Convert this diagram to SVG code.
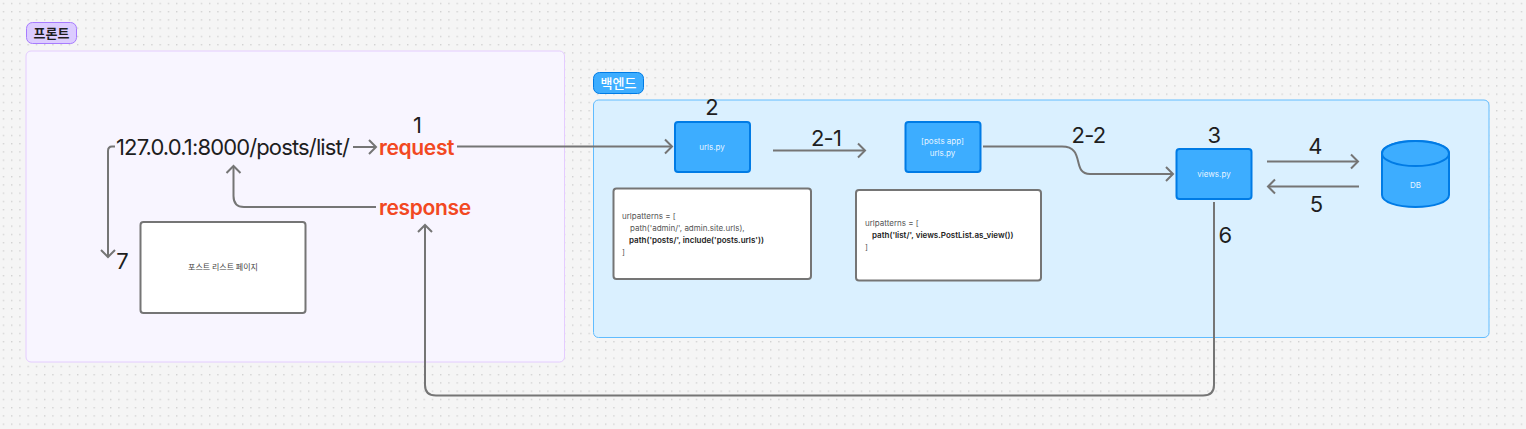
<svg xmlns="http://www.w3.org/2000/svg" width="1526" height="429" viewBox="0 0 1526 429">
<style>
text{font-family:Inter,"Noto Sans","Noto Sans CJK KR",sans-serif;fill:#1e1e1e}
.ko{font-family:"Noto Sans CJK KR","Noto Sans",sans-serif}
.n{font-size:22px;text-anchor:middle;letter-spacing:-.8px}
.big{font-size:22px;letter-spacing:-.86px}
.red{font-size:21px;font-weight:600;fill:#f24822;letter-spacing:-.35px}
.small{font-size:8px;fill:#fff;text-anchor:middle;fill-opacity:.9}
.code{font-size:8px;fill:#555}
.codeb{font-size:8px;font-weight:600;fill:#222}
.blue{fill:#3dadff;stroke:#007be5;stroke-width:2}
.white{fill:#fff;stroke:#757575;stroke-width:2}
.c{fill:none;stroke:#757575;stroke-width:2}
</style>
<defs>
<pattern id="dots" width="8.25" height="8.25" patternUnits="userSpaceOnUse" x="0" y="0"><rect x="3" y="3" width="1" height="1" fill="#b0b0b0"/></pattern>
<marker id="a" viewBox="-10 -10 12 20" refX="0" refY="0" markerWidth="12" markerHeight="20" markerUnits="userSpaceOnUse" orient="auto"><path d="M-7-7L0 0L-7 7" fill="none" stroke="#757575" stroke-width="2"/></marker>
</defs>
<rect width="1526" height="429" fill="#f5f5f5"/>
<rect width="1526" height="429" fill="url(#dots)"/>
<g id="front-section"><rect x="26" y="51" width="538.500" height="311" rx="5" fill="#f8f5ff" stroke="#e4ccff"/></g>
<g id="front-label"><rect x="26.500" y="22.500" width="50" height="21" rx="6" fill="#dcccff" stroke="#a77bff"/><text class="ko" x="51.500" y="37.500" font-size="13" font-weight="700" text-anchor="middle">프론트</text></g>
<g id="back-section"><rect x="593.500" y="100" width="895.500" height="237.500" rx="5" fill="#daf0ff" stroke="#60bcff"/></g>
<g id="back-label"><rect x="593.500" y="72.500" width="50" height="21" rx="6" fill="#3dadff" stroke="#007be5"/><text class="ko" x="618.500" y="87.500" font-size="13" font-weight="500" text-anchor="middle" style="fill:#fff">백엔드</text></g>
<g id="connectors">
<path class="c" marker-end="url(#a)" d="M115 146.500H112Q108 146.500 108 151V257"/>
<path class="c" marker-end="url(#a)" d="M353 147H376"/>
<path class="c" marker-end="url(#a)" d="M376 207H244Q233.500 207 233.500 196V166"/>
<path class="c" marker-end="url(#a)" d="M457 146.500H672"/>
<path class="c" marker-end="url(#a)" d="M773 150.500H865"/>
<path class="c" marker-end="url(#a)" d="M983 146.500H1062C1086 146.500 1071 174 1090 174H1173"/>
<path class="c" marker-end="url(#a)" d="M1267 161.500H1358"/>
<path class="c" marker-end="url(#a)" d="M1359 186.500H1268"/>
<path class="c" marker-end="url(#a)" d="M1214 202V385Q1214 395.500 1203 395.500H436Q425 395.500 425 385V225"/>
</g>
<g id="urls"><rect class="blue" x="675" y="122" width="75" height="50" rx="3"/><text class="small" x="712" y="150">urls.py</text></g>
<g id="posts-urls"><rect class="blue" x="905.500" y="122" width="75" height="50" rx="3"/><text class="small" x="942.500" y="144">[posts app]</text><text class="small" x="942.500" y="156">urls.py</text></g>
<g id="views"><rect class="blue" x="1176.500" y="149" width="75" height="50" rx="3"/><text class="small" x="1214" y="177">views.py</text></g>
<g id="db"><path class="blue" d="M1382 153C1382 146 1397 141 1415.500 141S1449 146 1449 153V195C1449 202 1434 207 1415.500 207S1382 202 1382 195Z"/><ellipse cx="1415.500" cy="153.500" rx="33.500" ry="12.500" class="blue"/><text class="small" x="1415.500" y="188">DB</text></g>
<g id="code1"><rect class="white" x="613.500" y="188.500" width="197.500" height="90.500" rx="3"/>
<text class="code" x="622" y="219">urlpatterns = [</text><text class="code" x="630" y="231">path('admin/', admin.site.urls),</text><text class="codeb" x="629" y="243">path('posts/', include('posts.urls'))</text><text class="code" x="622" y="255">]</text></g>
<g id="code2"><rect class="white" x="856" y="190" width="185" height="90.500" rx="3"/>
<text class="code" x="865" y="226">urlpatterns = [</text><text class="codeb" x="872" y="238">path('list/', views.PostList.as_view())</text><text class="code" x="865" y="250">]</text></g>
<g id="page"><rect class="white" x="140.500" y="222" width="165" height="91" rx="3"/><text class="ko" x="223" y="270" font-size="8" text-anchor="middle" style="fill:#444">포스트 리스트 페이지</text></g>
<g id="labels">
<text class="big" x="116" y="155">127.0.0.1:8000/posts/list/</text>
<text class="red" x="379" y="155">request</text>
<text class="red" x="379" y="215">response</text>
<text class="n" x="417" y="133">1</text>
<text class="n" x="711.500" y="115">2</text>
<text class="n" x="826" y="146">2-1</text>
<text class="n" x="1088.500" y="143">2-2</text>
<text class="n" x="1214" y="143">3</text>
<text class="n" x="1315" y="154">4</text>
<text class="n" x="1316" y="212">5</text>
<text class="n" x="1225" y="243">6</text>
<text class="n" x="122" y="269">7</text>
</g>
</svg>
